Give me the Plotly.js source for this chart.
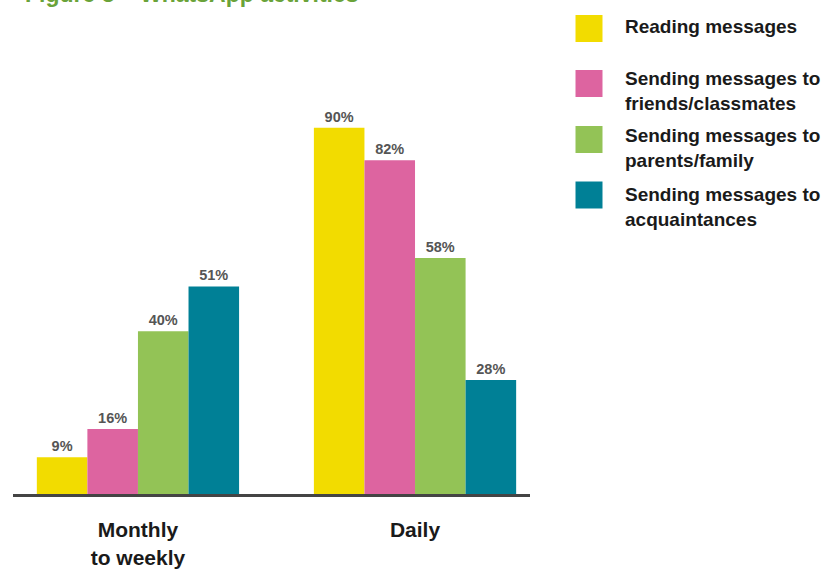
<!DOCTYPE html>
<html>
<head>
<meta charset="utf-8">
<script src="https://cdn.plot.ly/plotly-3.0.1.min.js"></script>
<style>html,body{margin:0;padding:0;background:#fff;}#chart{width:824px;height:569px;}</style>
</head>
<body>
<div id="chart"></div>
<script>
// ---- data ----
var categories = ["Monthly<br>to weekly", "Daily"];
var seriesNames = ["Reading messages",
  "Sending messages to<br>friends/classmates",
  "Sending messages to<br>parents/family",
  "Sending messages to<br>acquaintances"];
var readingMessages = [9, 90];
var sendingFriends = [16, 82];
var sendingFamily = [40, 58];
var sendingAcquaintances = [51, 28];
var seriesColors = ["#f2dc00", "#dd64a0", "#93c356", "#008096"];
var titleText = "Figure 3 \u2013 WhatsApp activities";

var seriesValues = [readingMessages, sendingFriends, sendingFamily, sendingAcquaintances];

// ---- layout geometry (pixels) ----
var W = 824, H = 569;
var M = {l: 13, r: 294, t: 30, b: 75};
var plotW = W - M.l - M.r, plotH = H - M.t - M.b;
function px2x(px) { return (px - M.l) / plotW; }
function py2y(py) { return (H - M.b - py) / plotH; }

var font = "'Liberation Sans', Arial, sans-serif";

var traces = seriesValues.map(function (vals, i) {
  return {
    type: "bar",
    name: seriesNames[i],
    x: [0, 1],
    y: vals,
    marker: {color: seriesColors[i], line: {width: 0}},
    text: vals.map(function (v) { return v + "%"; }),
    textposition: "outside",
    textfont: {family: font, size: 14.5, color: "#555555", weight: "bold"},
    cliponaxis: false,
    hoverinfo: "skip",
    showlegend: false
  };
});

// custom legend (big squares)
var legendSquareCenters = [28.5, 83.5, 139.5, 195];
var legendTextCenters = [26, 91, 148, 207];
var shapes = [], annotations = [];
seriesNames.forEach(function (name, i) {
  var c = legendSquareCenters[i];
  shapes.push({
    type: "rect", xref: "paper", yref: "paper",
    x0: px2x(575.5), x1: px2x(602.5), y0: py2y(c + 13.5), y1: py2y(c - 13.5),
    fillcolor: seriesColors[i], line: {width: 0}
  });
  annotations.push({
    xref: "paper", yref: "paper", x: px2x(623), y: py2y(legendTextCenters[i]),
    xanchor: "left", yanchor: "middle", align: "left", showarrow: false,
    text: name, font: {family: font, size: 19, color: "#1a1a1a", weight: "bold"}
  });
});

var layout = {
  width: W, height: H,
  margin: M,
  paper_bgcolor: "#ffffff", plot_bgcolor: "#ffffff",
  font: {family: font},
  title: {
    text: titleText, xref: "container", yref: "container",
    x: 25 / W, xanchor: "left", y: 1 - 2 / H, yanchor: "bottom",
    pad: {t: 0, b: 0, l: 0, r: 0},
    font: {family: font, size: 23, color: "#6aa339", weight: "bold"}
  },
  barmode: "group", bargap: 0.27, bargroupgap: 0,
  xaxis: {
    range: [-0.451, 1.415],
    tickmode: "array", tickvals: [0, 1], ticktext: categories,
    ticks: "", showgrid: false, zeroline: false,
    showline: true, linecolor: "#444444", linewidth: 3,
    tickfont: {family: font, size: 21, color: "#1a1a1a", weight: "bold"},
    ticklabelstandoff: 15,
    fixedrange: true
  },
  yaxis: {
    range: [0, 114], visible: false, showgrid: false, zeroline: false, fixedrange: true
  },
  shapes: shapes,
  annotations: annotations,
  showlegend: false
};

Plotly.newPlot("chart", traces, layout, {displayModeBar: false, staticPlot: true});
</script>
</body>
</html>
